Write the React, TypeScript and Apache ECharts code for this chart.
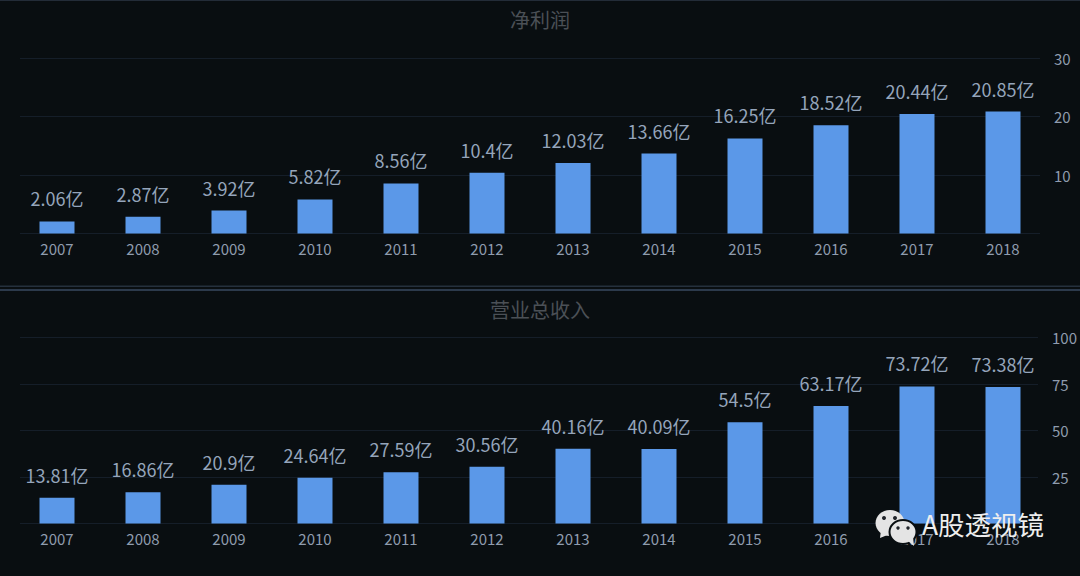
import React, { useEffect, useRef } from "react";
import * as echarts from "echarts";

const years = ["2007", "2008", "2009", "2010", "2011", "2012", "2013", "2014", "2015", "2016", "2017", "2018"];
const profit = [2.06, 2.87, 3.92, 5.82, 8.56, 10.4, 12.03, 13.66, 16.25, 18.52, 20.44, 20.85];
const revenue = [13.81, 16.86, 20.9, 24.64, 27.59, 30.56, 40.16, 40.09, 54.5, 63.17, 73.72, 73.38];
const titles = ["净利润", "营业总收入"];
const watermark = "A股透视镜";

const FONT = '"Noto Sans CJK SC", "Noto Sans", sans-serif';
const BG = "#090e11";
const GRID = "#151e29";
const TICK = "#8f9cae";
const LABEL = "#95a5bb";
const BAR = "#5b98e8";

export default function App() {
  const ref = useRef<HTMLDivElement>(null);
  useEffect(() => {
    const chart = echarts.init(ref.current!, undefined, { renderer: "svg" });
    const panels = [
      { top: 58, height: 175.5, max: 30, interval: 10, data: profit },
      { top: 337.5, height: 186, max: 100, interval: 25, data: revenue },
    ];
    const grid: any[] = [];
    const xAxis: any[] = [];
    const yAxis: any[] = [];
    const series: any[] = [];
    panels.forEach((p, i) => {
      // scale and gridlines grid (narrower than the bars' grid)
      grid.push({ left: 20, right: 40, top: p.top, height: p.height });
      xAxis.push({ type: "category", gridIndex: 2 * i, data: years, show: false });
      yAxis.push({
        type: "value",
        gridIndex: 2 * i,
        position: "right",
        min: 0,
        max: p.max,
        interval: p.interval,
        axisLine: { show: false },
        axisTick: { show: false },
        axisLabel: {
          showMinLabel: false,
          color: TICK,
          fontFamily: FONT,
          fontSize: 15,
          margin: 14,
        },
        splitLine: { show: true, lineStyle: { color: GRID, width: 1 } },
      });
      // bars grid
      grid.push({ left: 14, right: 34, top: p.top, height: p.height });
      xAxis.push({
        type: "category",
        gridIndex: 2 * i + 1,
        data: years,
        axisLine: { show: false },
        axisTick: { show: false },
        axisLabel: { color: TICK, fontFamily: FONT, fontSize: 15, margin: 7, interval: 0 },
      });
      yAxis.push({ type: "value", gridIndex: 2 * i + 1, min: 0, max: p.max, interval: p.interval, show: false });
      series.push({
        type: "bar",
        xAxisIndex: 2 * i + 1,
        yAxisIndex: 2 * i + 1,
        data: p.data,
        barWidth: 35,
        itemStyle: { color: BAR },
        label: {
          show: true,
          position: "top",
          distance: 14,
          color: LABEL,
          fontFamily: FONT,
          fontSize: 18,
          formatter: (v: any) => `${v.value}亿`,
        },
      });
    });

    const bubble = "#e4e4e4";
    const eye = "#20242a";
    chart.setOption({
      animation: false,
      backgroundColor: BG,
      title: [
        { text: titles[0], left: "center", top: 4, textStyle: { color: "#4b5056", fontFamily: FONT, fontSize: 20, fontWeight: "normal" } },
        { text: titles[1], left: "center", top: 294, textStyle: { color: "#4b5056", fontFamily: FONT, fontSize: 20, fontWeight: "normal" } },
      ],
      grid,
      xAxis,
      yAxis,
      series,
      graphic: [
        { type: "rect", z: 50, shape: { x: 0, y: 0, width: 1080, height: 1 }, style: { fill: "#232c38" } },
        { type: "rect", z: 50, shape: { x: 0, y: 285.5, width: 1080, height: 1.5 }, style: { fill: "#25303d" } },
        { type: "rect", z: 50, shape: { x: 0, y: 289, width: 1080, height: 2 }, style: { fill: "#2c3a4c" } },
        { type: "polygon", z: 100, shape: { points: [[881, 530], [880, 538], [890, 534]] }, style: { fill: bubble } },
        { type: "ellipse", z: 100, shape: { cx: 890, cy: 523, rx: 14.5, ry: 13 }, style: { fill: bubble } },
        { type: "circle", z: 100, shape: { cx: 884, cy: 518, r: 2 }, style: { fill: eye } },
        { type: "circle", z: 100, shape: { cx: 895, cy: 518, r: 2 }, style: { fill: eye } },
        { type: "ellipse", z: 101, shape: { cx: 903, cy: 532, rx: 13.5, ry: 12 }, style: { fill: bubble, stroke: BG, lineWidth: 2 } },
        { type: "polygon", z: 101, shape: { points: [[908, 541], [914, 546], [913, 537]] }, style: { fill: bubble } },
        { type: "circle", z: 102, shape: { cx: 898, cy: 528, r: 1.7 }, style: { fill: eye } },
        { type: "circle", z: 102, shape: { cx: 908, cy: 528, r: 1.7 }, style: { fill: eye } },
        { type: "text", z: 103, x: 922, y: 510, style: { text: watermark, fill: "#eeeeee", font: `26.5px ${FONT}` } },
      ],
    });
    return () => chart.dispose();
  }, []);
  return <div ref={ref} style={{ position: "fixed", left: 0, top: 0, width: 1080, height: 576 }} />;
}
